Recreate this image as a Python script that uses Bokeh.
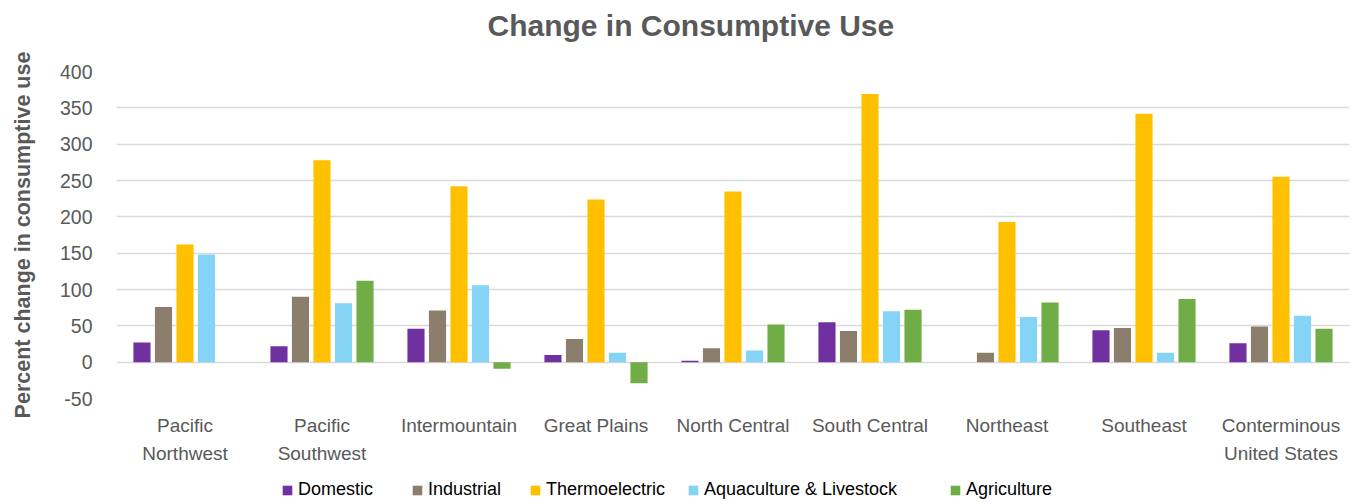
from bokeh.plotting import figure
from bokeh.layouts import column
from bokeh.models import (FactorRange, Range1d, Legend, LegendItem, Title,
                          SingleIntervalTicker, ColumnDataSource,
                          PrintfTickFormatter)
from bokeh.transform import dodge
from bokeh.embed import file_html
from bokeh.resources import INLINE

# ---- data -------------------------------------------------------------
regions = ["Pacific\nNorthwest", "Pacific\nSouthwest", "Intermountain",
           "Great Plains", "North Central", "South Central", "Northeast",
           "Southeast", "Conterminous\nUnited States"]
domestic = [27, 22, 46, 10, 2, 55, 0, 44, 26]
industrial = [76, 90, 71, 32, 19, 43, 13, 47, 49]
thermoelectric = [162, 278, 242, 224, 235, 369, 193, 342, 255]
aquaculture_livestock = [148, 81, 106, 13, 16, 70, 62, 13, 64]
agriculture = [0, 112, -9, -29, 52, 72, 82, 87, 46]

series_names = ["Domestic", "Industrial", "Thermoelectric",
                "Aquaculture & Livestock", "Agriculture"]
series_keys = ["domestic", "industrial", "thermoelectric",
               "aquaculture_livestock", "agriculture"]
series_colors = ["#7030A0", "#8C7E6C", "#FFC000", "#85D3F5", "#70AD47"]
y_ticks_interval = 50
y_min, y_max = -50, 400

FONT = "Liberation Sans"
GRAY = "#595959"

source = ColumnDataSource(dict(
    region=regions, domestic=domestic, industrial=industrial,
    thermoelectric=thermoelectric,
    aquaculture_livestock=aquaculture_livestock, agriculture=agriculture))

p = figure(frame_width=1233, frame_height=327,
           output_backend="svg", toolbar_location=None,
           x_range=FactorRange(factors=regions, range_padding=0),
           y_range=Range1d(y_min, y_max),
           min_border_left=116, min_border_right=6,
           min_border_top=71, min_border_bottom=72)
p.outline_line_color = None
p.background_fill_color = "white"
p.border_fill_color = "white"

pitch = 0.157
offsets = [-2 * pitch, -pitch, 0, pitch, 2 * pitch]
for key, off, col in zip(series_keys, offsets, series_colors):
    p.vbar(x=dodge("region", off, range=p.x_range), top=key, bottom=0,
           width=0.125, source=source, fill_color=col, line_color=None)

# axes
p.yaxis.ticker = SingleIntervalTicker(interval=y_ticks_interval)
p.yaxis.formatter = PrintfTickFormatter(format="%d")
p.yaxis.axis_line_color = None
p.yaxis.major_tick_line_color = None
p.yaxis.minor_tick_line_color = None
p.yaxis.major_tick_out = 0
p.yaxis.major_tick_in = 0
p.yaxis.major_label_standoff = 20
p.yaxis.major_label_text_font = FONT
p.yaxis.major_label_text_font_size = "19.5px"
p.yaxis.major_label_text_color = GRAY
p.yaxis.axis_label = "Percent change in consumptive use"
p.yaxis.axis_label_text_font = FONT
p.yaxis.axis_label_text_font_size = "21.5px"
p.yaxis.axis_label_text_font_style = "bold"
p.yaxis.axis_label_text_color = GRAY
p.yaxis.axis_label_standoff = 22

p.xaxis.axis_line_color = None
p.xaxis.major_tick_line_color = None
p.xaxis.minor_tick_line_color = None
p.xaxis.major_tick_out = 0
p.xaxis.major_tick_in = 0
p.xaxis.major_label_standoff = 16
p.xaxis.major_label_text_font = FONT
p.xaxis.major_label_text_font_size = "19px"
p.xaxis.major_label_text_color = GRAY
p.xaxis.major_label_text_line_height = 1.35

p.xgrid.grid_line_color = None
p.ygrid.grid_line_color = "#D9D9D9"
p.ygrid.grid_line_width = 1.3

# spacer between frame and title (first 'above' panel sits next to frame)
p.add_layout(Title(text=" ", text_font_size="10px", standoff=17), "above")

# title
p.title.text = "Change in Consumptive Use"
p.title.align = "left"
p.title.offset = 371
p.title.vertical_align = "bottom"
p.title.standoff = 0
p.title.text_font = FONT
p.title.text_font_size = "30px"
p.title.text_font_style = "bold"
p.title.text_color = GRAY

# ---- legend strip under the chart (same series, bars kept out of view) ----
lg = figure(width=1355, height=32, output_backend="svg", toolbar_location=None,
            x_range=FactorRange(factors=regions, range_padding=0),
            y_range=Range1d(1000, 1001),
            min_border_left=0, min_border_right=0,
            min_border_top=0, min_border_bottom=0)
lg.outline_line_color = None
lg.xaxis.visible = False
lg.yaxis.visible = False
lg.xgrid.visible = False
lg.ygrid.visible = False

# offsets from the (aligned) frame's left edge
legend_x = [165, 295, 413, 571, 833]
for key, off, col, name, lx in zip(series_keys, offsets, series_colors,
                                   series_names, legend_x):
    r = lg.vbar(x=dodge("region", off, range=lg.x_range), top=key, bottom=0,
                width=0.125, source=source, fill_color=col, line_color=None)
    leg = Legend(items=[LegendItem(label=name, renderers=[r])],
                 location=(lx, 2), orientation="horizontal",
                 glyph_width=12, glyph_height=12, label_standoff=5,
                 label_height=20, padding=0, margin=0, spacing=0,
                 border_line_color=None, background_fill_alpha=0,
                 label_text_font=FONT, label_text_font_size="18px",
                 label_text_color="#000000")
    lg.add_layout(leg)

layout = column(p, lg, spacing=0)
open("out.html", "w").write(file_html(layout, INLINE))
